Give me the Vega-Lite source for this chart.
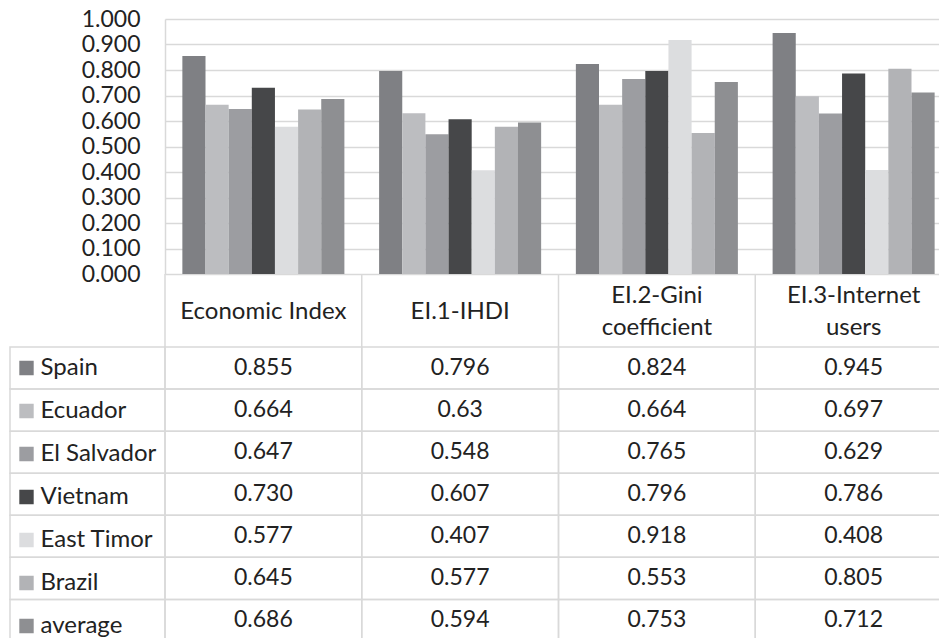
{
  "$schema": "https://vega.github.io/schema/vega-lite/v6.json",
  "background": "white",
  "padding": {"left": 9, "top": 8, "right": 0, "bottom": 0},
  "config": {"view": {"stroke": null}, "font": "Lato"},
  "columns": 2,
  "spacing": 0,
  "bounds": "flush",
  "datasets": {
    "scores": [
      {"cat": "Economic Index", "country": "Spain", "value": 0.855, "shown": "0.855"},
      {"cat": "Economic Index", "country": "Ecuador", "value": 0.664, "shown": "0.664"},
      {"cat": "Economic Index", "country": "El Salvador", "value": 0.647, "shown": "0.647"},
      {"cat": "Economic Index", "country": "Vietnam", "value": 0.730, "shown": "0.730"},
      {"cat": "Economic Index", "country": "East Timor", "value": 0.577, "shown": "0.577"},
      {"cat": "Economic Index", "country": "Brazil", "value": 0.645, "shown": "0.645"},
      {"cat": "Economic Index", "country": "average", "value": 0.686, "shown": "0.686"},
      {"cat": "EI.1-IHDI", "country": "Spain", "value": 0.796, "shown": "0.796"},
      {"cat": "EI.1-IHDI", "country": "Ecuador", "value": 0.63, "shown": "0.63"},
      {"cat": "EI.1-IHDI", "country": "El Salvador", "value": 0.548, "shown": "0.548"},
      {"cat": "EI.1-IHDI", "country": "Vietnam", "value": 0.607, "shown": "0.607"},
      {"cat": "EI.1-IHDI", "country": "East Timor", "value": 0.407, "shown": "0.407"},
      {"cat": "EI.1-IHDI", "country": "Brazil", "value": 0.577, "shown": "0.577"},
      {"cat": "EI.1-IHDI", "country": "average", "value": 0.594, "shown": "0.594"},
      {"cat": "EI.2-Gini\ncoefficient", "country": "Spain", "value": 0.824, "shown": "0.824"},
      {"cat": "EI.2-Gini\ncoefficient", "country": "Ecuador", "value": 0.664, "shown": "0.664"},
      {"cat": "EI.2-Gini\ncoefficient", "country": "El Salvador", "value": 0.765, "shown": "0.765"},
      {"cat": "EI.2-Gini\ncoefficient", "country": "Vietnam", "value": 0.796, "shown": "0.796"},
      {"cat": "EI.2-Gini\ncoefficient", "country": "East Timor", "value": 0.918, "shown": "0.918"},
      {"cat": "EI.2-Gini\ncoefficient", "country": "Brazil", "value": 0.553, "shown": "0.553"},
      {"cat": "EI.2-Gini\ncoefficient", "country": "average", "value": 0.753, "shown": "0.753"},
      {"cat": "EI.3-Internet\nusers", "country": "Spain", "value": 0.945, "shown": "0.945"},
      {"cat": "EI.3-Internet\nusers", "country": "Ecuador", "value": 0.697, "shown": "0.697"},
      {"cat": "EI.3-Internet\nusers", "country": "El Salvador", "value": 0.629, "shown": "0.629"},
      {"cat": "EI.3-Internet\nusers", "country": "Vietnam", "value": 0.786, "shown": "0.786"},
      {"cat": "EI.3-Internet\nusers", "country": "East Timor", "value": 0.408, "shown": "0.408"},
      {"cat": "EI.3-Internet\nusers", "country": "Brazil", "value": 0.805, "shown": "0.805"},
      {"cat": "EI.3-Internet\nusers", "country": "average", "value": 0.712, "shown": "0.712"}
    ],
    "heads": [
      {"cat": "Economic Index"},
      {"cat": "EI.1-IHDI"},
      {"cat": "EI.2-Gini\ncoefficient"},
      {"cat": "EI.3-Internet\nusers"}
    ]
  },
  "concat": [
    {
      "width": 155,
      "height": 255,
      "data": {"values": [{}]},
      "mark": {"type": "rect", "fill": "white", "opacity": 0},
      "encoding": {}
    },
    {
      "width": 787,
      "height": 255,
      "data": {"name": "scores"},
      "mark": {"type": "bar"},
      "encoding": {
        "x": {
          "field": "cat",
          "type": "nominal",
          "scale": {
            "domain": ["Economic Index", "EI.1-IHDI", "EI.2-Gini\ncoefficient", "EI.3-Internet\nusers"],
            "paddingInner": 0,
            "paddingOuter": 0
          },
          "axis": null
        },
        "xOffset": {
          "field": "country",
          "type": "nominal",
          "scale": {
            "domain": ["Spain", "Ecuador", "El Salvador", "Vietnam", "East Timor", "Brazil", "average"],
            "paddingInner": 0,
            "paddingOuter": 0.75
          }
        },
        "y": {
          "field": "value",
          "type": "quantitative",
          "scale": {"domain": [0, 1]},
          "axis": {
            "title": null,
            "values": [0, 0.1, 0.2, 0.3, 0.4, 0.5, 0.6, 0.7, 0.8, 0.9, 1],
            "format": ".3f",
            "grid": true,
            "gridColor": "#d9d9d9",
            "gridWidth": 1.5,
            "domainColor": "#d9d9d9",
            "domainWidth": 1.5,
            "ticks": false,
            "labelPadding": 25,
            "labelFont": "Lato",
            "labelFontSize": 23,
            "labelColor": "#222222"
          }
        },
        "color": {
          "field": "country",
          "type": "nominal",
          "scale": {
            "domain": ["Spain", "Ecuador", "El Salvador", "Vietnam", "East Timor", "Brazil", "average"],
            "range": ["#7f8084", "#bcbdc0", "#9c9da1", "#464749", "#dcdddf", "#b2b3b6", "#8e8f92"]
          },
          "legend": {
            "orient": "none",
            "legendX": 4.5,
            "legendY": 328,
            "title": null,
            "padding": 0,
            "rowPadding": 0,
            "clipHeight": 42.07,
            "symbolType": "square",
            "symbolSize": 207,
            "symbolStrokeWidth": 0,
            "labelFont": "Lato",
            "labelFontSize": 24,
            "labelColor": "#222222",
            "labelOffset": 2,
            "labelLimit": 200
          }
        }
      }
    },
    {
      "width": 155,
      "height": 73,
      "data": {"values": [{}]},
      "mark": {"type": "rect", "fill": "white", "opacity": 0},
      "encoding": {}
    },
    {
      "width": 787,
      "height": 73,
      "data": {"name": "heads"},
      "encoding": {
        "x": {
          "field": "cat",
          "type": "nominal",
          "scale": {
            "domain": ["Economic Index", "EI.1-IHDI", "EI.2-Gini\ncoefficient", "EI.3-Internet\nusers"],
            "paddingInner": 0,
            "paddingOuter": 0
          },
          "axis": null
        }
      },
      "layer": [
        {
          "mark": {"type": "rule", "color": "#d9d9d9", "strokeWidth": 1.5},
          "encoding": {
            "x": {
              "field": "cat",
              "type": "nominal",
              "bandPosition": 0,
              "axis": null
            }
          }
        },
        {
          "transform": [{"filter": "indexof(datum.cat, '\\n') < 0"}],
          "mark": {
            "type": "text",
            "font": "Lato",
            "fontSize": 24,
            "color": "#222222",
            "baseline": "middle",
            "dy": 1.5
          },
          "encoding": {"text": {"field": "cat"}}
        },
        {
          "transform": [{"filter": "indexof(datum.cat, '\\n') >= 0"}],
          "mark": {
            "type": "text",
            "font": "Lato",
            "fontSize": 24,
            "color": "#222222",
            "lineBreak": "\n",
            "lineHeight": 32,
            "baseline": "middle",
            "dy": -14.5
          },
          "encoding": {"text": {"field": "cat"}}
        }
      ]
    },
    {
      "width": 155,
      "height": 294.5,
      "data": {"name": "scores"},
      "transform": [{"filter": "datum.cat === 'Economic Index'"}],
      "mark": {"type": "rect", "fill": "transparent", "stroke": "#d9d9d9", "strokeWidth": 1.5},
      "encoding": {
        "y": {
          "field": "country",
          "type": "nominal",
          "scale": {
            "domain": ["Spain", "Ecuador", "El Salvador", "Vietnam", "East Timor", "Brazil", "average"],
            "paddingInner": 0,
            "paddingOuter": 0
          },
          "axis": null
        }
      }
    },
    {
      "width": 787,
      "height": 294.5,
      "data": {"name": "scores"},
      "encoding": {
        "x": {
          "field": "cat",
          "type": "nominal",
          "scale": {
            "domain": ["Economic Index", "EI.1-IHDI", "EI.2-Gini\ncoefficient", "EI.3-Internet\nusers"],
            "paddingInner": 0,
            "paddingOuter": 0
          },
          "axis": null
        },
        "y": {
          "field": "country",
          "type": "nominal",
          "scale": {
            "domain": ["Spain", "Ecuador", "El Salvador", "Vietnam", "East Timor", "Brazil", "average"],
            "paddingInner": 0,
            "paddingOuter": 0
          },
          "axis": null
        }
      },
      "layer": [
        {"mark": {"type": "rect", "fill": "transparent", "stroke": "#d9d9d9", "strokeWidth": 1.5}},
        {
          "mark": {"type": "text", "font": "Lato", "fontSize": 23, "color": "#222222", "baseline": "middle"},
          "encoding": {"text": {"field": "shown"}}
        }
      ]
    }
  ]
}
